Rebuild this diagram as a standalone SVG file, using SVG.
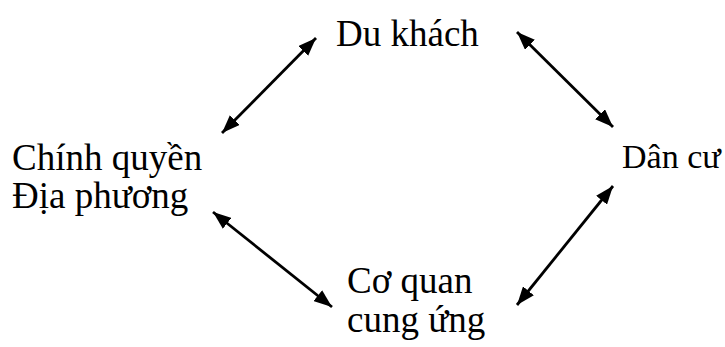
<svg xmlns="http://www.w3.org/2000/svg" width="725" height="347" viewBox="0 0 725 347">
  <style>
    .lbl { font-family: "Liberation Serif", "Times New Roman", serif; font-size: 37px; fill: #000; }
    .link { stroke: #000; stroke-width: 2.8; fill: none; marker-start: url(#head); marker-end: url(#head); }
  </style>
  <defs>
    <marker id="head" viewBox="0 0 13 10" refX="13" refY="5" markerWidth="6.5" markerHeight="5" markerUnits="strokeWidth" orient="auto-start-reverse">
      <path d="M0,0 L13,5 L0,10 Z" fill="#000"/>
    </marker>
  </defs>
  <rect width="725" height="347" fill="#fff"/>

  <g id="du-khach"><text class="lbl" x="336" y="46">Du khách</text></g>
  <g id="chinh-quyen"><text class="lbl" x="12" y="170">Chính quyền</text><text class="lbl" x="12" y="208">Địa phương</text></g>
  <g id="dan-cu"><text class="lbl" x="622" y="168" style="font-size:34px">Dân cư</text></g>
  <g id="co-quan"><text class="lbl" x="347" y="293">Cơ quan</text><text class="lbl" x="347" y="332">cung ứng</text></g>

  <g id="connectors">
    <line class="link" x1="222" y1="133" x2="316" y2="38"/>
    <line class="link" x1="517" y1="32" x2="613" y2="127"/>
    <line class="link" x1="213" y1="212" x2="332" y2="307"/>
    <line class="link" x1="517" y1="305" x2="613" y2="186"/>
  </g>
</svg>
